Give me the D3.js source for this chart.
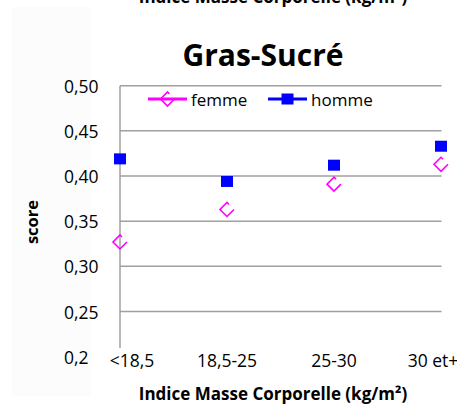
<!DOCTYPE html>
<html><head><meta charset="utf-8">
<script src="https://cdn.jsdelivr.net/npm/d3@7"></script>
<style>html,body{margin:0;padding:0;background:#fff;}svg{display:block;}</style>
</head><body>
<svg id="chart" width="457" height="414"></svg>
<script>
const categories = ["<18,5", "18,5-25", "25-30", "30 et+"];
const femme = [0.327, 0.363, 0.391, 0.413];
const homme = [0.419, 0.394, 0.412, 0.433];
const yTicks = [0.50, 0.45, 0.40, 0.35, 0.30, 0.25, 0.20];
const yTickLabels = ["0,50", "0,45", "0,40", "0,35", "0,30", "0,25", "0,2"];
const seriesNames = ["femme", "homme"];
const title = "Gras-Sucré";
const xTitle = "Indice Masse Corporelle (kg/m²)";
const yTitle = "score";

const FONT = "'Open Sans', sans-serif";
const svg = d3.select("#chart");
svg.append("rect").attr("x",12).attr("y",7).attr("width",79).attr("height",389).attr("fill","#fcfcfc");

const x = d3.scalePoint().domain(categories).range([120, 441]).padding(0);
const y = d3.scaleLinear().domain([0.20, 0.50]).range([356.7, 85.7]);

// cut-off heading at top
svg.append("text").attr("x", 273).attr("y", 3).attr("text-anchor","middle")
  .attr("font-family", FONT).attr("font-weight","bold").attr("font-size",17).attr("fill","#000").text(xTitle);

// title
svg.append("text").attr("x", 263).attr("y", 66).attr("text-anchor","middle")
  .attr("font-family", FONT).attr("font-weight","bold").attr("font-size",30).attr("fill","#000").text(title);

// gridlines
svg.append("g").selectAll("line").data(yTicks.filter(d => d > 0.2)).join("line")
  .attr("x1", 120).attr("x2", 441.5).attr("y1", d => y(d)).attr("y2", d => y(d))
  .attr("stroke", "#a0a0a0").attr("stroke-width", 1.5);
// y axis line
svg.append("line").attr("x1",120).attr("x2",120).attr("y1",y(0.50)).attr("y2",348)
  .attr("stroke","#a0a0a0").attr("stroke-width",1.5);

// y tick labels
svg.append("g").selectAll("text").data(yTicks).join("text")
  .attr("x", 64).attr("y", d => y(d) + 7).attr("text-anchor","start")
  .attr("font-family", FONT).attr("font-size", 17.5).attr("fill","#000")
  .text((d,i) => yTickLabels[i]);

// x labels
const xOff = [12, 0, 0, -8];
svg.append("g").selectAll("text").data(categories).join("text")
  .attr("x", (d,i) => x(d) + xOff[i]).attr("y", 367).attr("text-anchor","middle")
  .attr("font-family", FONT).attr("font-size", 17.5).attr("fill","#000").text(d => d);

// axis titles
svg.append("text").attr("x", 273).attr("y", 400).attr("text-anchor","middle")
  .attr("font-family", FONT).attr("font-weight","bold").attr("font-size",17).attr("fill","#000").text(xTitle);
svg.append("text").attr("transform","translate(38,222) rotate(-90)").attr("text-anchor","middle")
  .attr("font-family", FONT).attr("font-weight","bold").attr("font-size",16.5).attr("fill","#000").text(yTitle);

// marker drawing
const femmePath = "M2,-5 L0,-7 L-7,0 L0,7 L7,0";
function femmeMarker(g) {
  g.append("path").attr("d", femmePath).attr("fill","none").attr("stroke","#ff00ff").attr("stroke-width",1.6);
}
function hommeMarker(g) {
  g.append("rect").attr("x",-6).attr("y",-5.5).attr("width",12).attr("height",11).attr("fill","#0000ff");
}

// points
svg.append("g").selectAll("g").data(femme).join("g")
  .attr("transform", (d,i) => `translate(${x(categories[i])},${y(d)})`)
  .each(function(){ femmeMarker(d3.select(this)); });
svg.append("g").selectAll("g").data(homme).join("g")
  .attr("transform", (d,i) => `translate(${x(categories[i])},${y(d)})`)
  .each(function(){ hommeMarker(d3.select(this)); });

// legend
const leg = [{name: seriesNames[0], color:"#ff00ff", x0:148, mk: femmeMarker},
             {name: seriesNames[1], color:"#0000ff", x0:268, mk: hommeMarker}];
const lg = svg.append("g").selectAll("g").data(leg).join("g").attr("transform", d => `translate(${d.x0},99)`);
lg.append("line").attr("x1",0).attr("x2",39).attr("y1",0).attr("y2",0).attr("stroke", d=>d.color).attr("stroke-width",3);
lg.each(function(d){ const m = d3.select(this).append("g").attr("transform","translate(19.5,0)"); d.mk(m); });
lg.append("text").attr("x",43).attr("y",6.5).attr("font-family",FONT).attr("font-size",17).attr("fill","#000").text(d=>d.name);
</script>
</body></html>
